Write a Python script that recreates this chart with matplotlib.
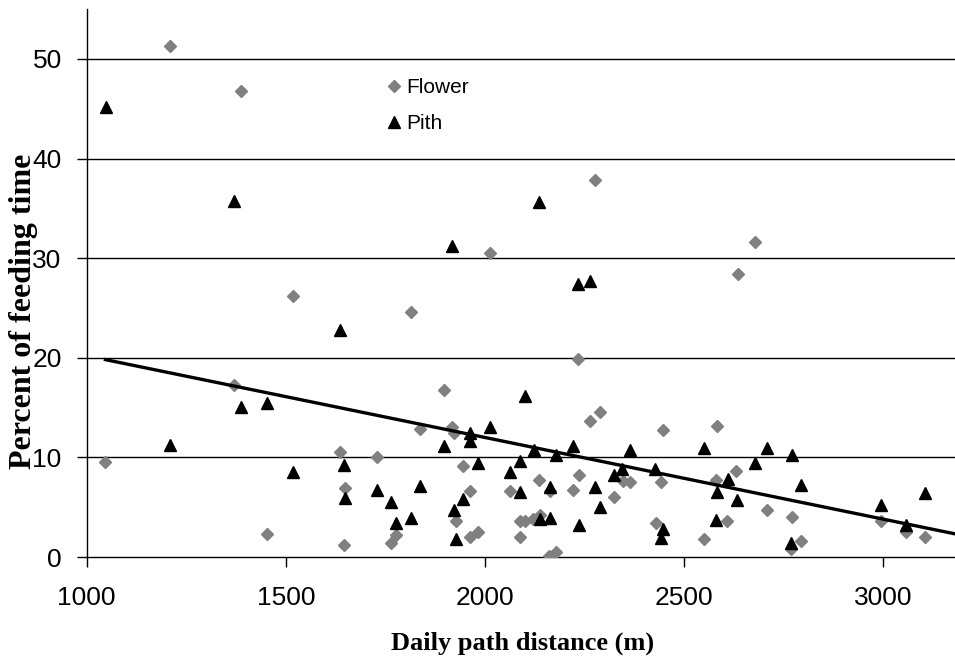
import matplotlib
matplotlib.use("Agg")
import matplotlib.pyplot as plt

# values
flower_x = [1047, 1209, 1370, 1388, 1452, 1517, 1637, 1645, 1649, 1729,
            1764, 1777, 1814, 1836, 1896, 1918, 1921, 1926, 1944, 1962,
            1962, 1982, 2012, 2062, 2087, 2089, 2101, 2121, 2136, 2139,
            2160, 2164, 2178, 2220, 2233, 2237, 2263, 2276, 2289, 2323,
            2347, 2365, 2430, 2442, 2446, 2550, 2579, 2583, 2608, 2630,
            2635, 2678, 2707, 2767, 2772, 2793, 2994, 3056, 3104]
flower_y = [9.5, 51.3, 17.3, 46.8, 2.3, 26.2, 10.5, 1.2, 6.9, 10.0,
            1.4, 2.2, 24.6, 12.9, 16.8, 13.1, 12.4, 3.6, 9.1, 6.6,
            2.0, 2.5, 30.5, 6.6, 2.0, 3.6, 3.6, 3.8, 7.7, 4.2,
            0.1, 6.6, 0.5, 6.7, 19.9, 8.2, 13.7, 37.8, 14.6, 6.0,
            7.6, 7.5, 3.4, 7.5, 12.8, 1.8, 7.7, 13.2, 3.6, 8.6,
            28.4, 31.6, 4.7, 0.8, 4.0, 1.6, 3.6, 2.5, 2.0]

pith_x = [1048, 1209, 1371, 1388, 1452, 1517, 1637, 1645, 1649, 1729,
          1764, 1777, 1814, 1836, 1896, 1918, 1923, 1926, 1944, 1962,
          1962, 1982, 2012, 2062, 2087, 2087, 2101, 2122, 2136, 2139,
          2163, 2164, 2177, 2220, 2233, 2237, 2263, 2276, 2289, 2323,
          2344, 2365, 2428, 2442, 2446, 2550, 2579, 2583, 2610, 2633,
          2678, 2707, 2767, 2772, 2793, 2994, 3058, 3104]
pith_y = [45.2, 11.2, 35.7, 15.1, 15.5, 8.5, 22.8, 9.2, 5.9, 6.7,
          5.5, 3.4, 3.9, 7.1, 11.1, 31.2, 4.7, 1.8, 5.8, 12.4,
          11.6, 9.4, 13.1, 8.5, 9.6, 6.5, 16.2, 10.7, 35.6, 3.8,
          3.9, 7.0, 10.2, 11.1, 27.4, 3.2, 27.7, 7.0, 5.0, 8.2,
          8.8, 10.7, 8.8, 1.9, 2.8, 10.9, 3.7, 6.5, 7.8, 5.7,
          9.4, 10.9, 1.4, 10.2, 7.2, 5.2, 3.2, 6.4]

# linear trend line
trend_x = [1047, 3200]
trend_slope = -0.0082
trend_intercept = 28.4

x_ticks = [1000, 1500, 2000, 2500, 3000]
y_ticks = [0, 10, 20, 30, 40, 50]

fig = plt.figure(figsize=(9.55, 6.65), dpi=100)
ax = fig.add_axes([0.0908, 0.1624, 0.9092, 0.8238])

for y in y_ticks[1:]:
    ax.axhline(y, color="black", lw=1.0, zorder=1)

ax.plot(flower_x, flower_y, ls="none", marker="D", ms=5.8,
        color="#808080", label="Flower", zorder=3)
ax.plot(pith_x, pith_y, ls="none", marker="^", ms=8.6,
        color="black", label="Pith", zorder=4)

trend_y = [trend_intercept + trend_slope * x for x in trend_x]
ax.plot(trend_x, trend_y, color="black", lw=2.4, zorder=5)

ax.set_xlim(1000, 3180)
ax.set_ylim(0, 55)
ax.set_xticks(x_ticks)
ax.set_yticks(y_ticks)

for side in ("top", "right"):
    ax.spines[side].set_visible(False)
for side in ("left", "bottom"):
    ax.spines[side].set_linewidth(1.0)

ax.tick_params(direction="out", length=7, width=1.0, labelsize=19)
ax.tick_params(axis="y", pad=11)
ax.tick_params(axis="x", pad=14)
for lab in ax.get_xticklabels() + ax.get_yticklabels():
    lab.set_fontfamily(["Liberation Sans", "DejaVu Sans"])

leg = ax.legend(loc="upper left", bbox_to_anchor=(0.3467, 0.874),
                frameon=False, numpoints=1, handlelength=0.6,
                handletextpad=0.3, labelspacing=0.8, borderpad=0,
                borderaxespad=0,
                prop={"family": ["Liberation Sans", "DejaVu Sans"], "size": 15})

fig.text(523 / 955, 1 - 643 / 665, "Daily path distance (m)",
         ha="center", va="center", fontsize=19, fontweight="bold",
         family=["Liberation Serif", "DejaVu Serif"])
fig.text(24 / 955, 1 - 311 / 665, "Percent of feeding time",
         ha="center", va="center", rotation=90, fontsize=23,
         fontweight="bold", family=["Liberation Serif", "DejaVu Serif"])

fig.savefig("out.png", dpi=100)
